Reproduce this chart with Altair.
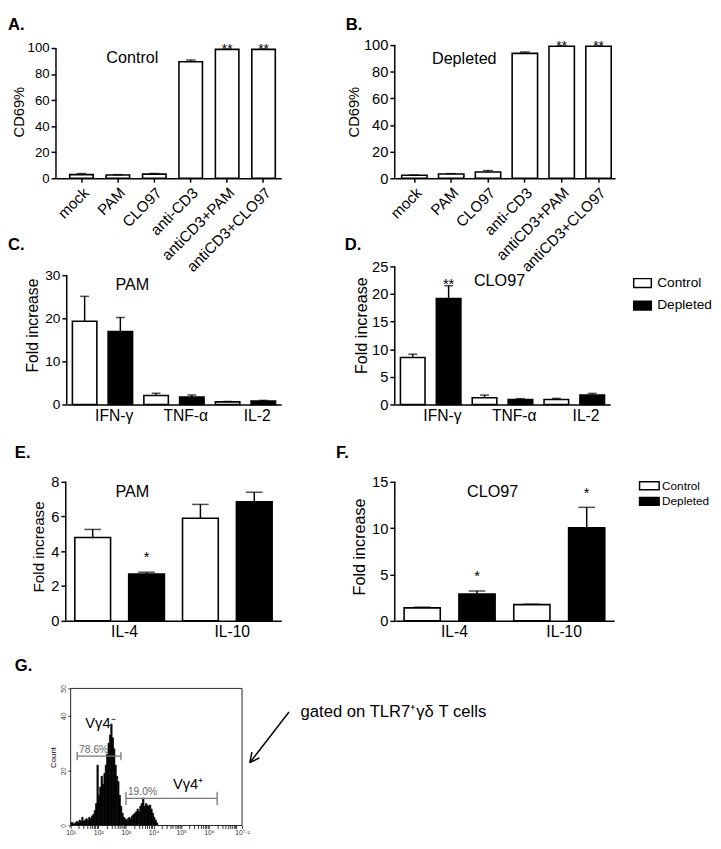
import math
import altair as alt
import pandas as pd

FONT = "Liberation Sans"

# ---------------- data ----------------
cd69_cats = ['mock', 'PAM', 'CLO97', 'anti-CD3', 'antiCD3+PAM', 'antiCD3+CLO97']
ctrl_cd69 = [2.8, 2.5, 3.2, 89.5, 99.0, 99.0]
ctrl_cd69_err = [0.8, 0.3, 0.5, 1.3, 0.2, 0.2]
ctrl_cd69_sig = ['', '', '', '', '**', '**']
depl_cd69 = [2.2, 3.2, 4.7, 93.8, 99.2, 99.2]
depl_cd69_err = [0.3, 0.3, 1.1, 1.0, 0.2, 0.2]
depl_cd69_sig = ['', '', '', '', '**', '**']

groups = ['Control', 'Depleted']
th1 = ['IFN-γ', 'TNF-α', 'IL-2']
pam_th1_ctrl = [19.3, 2.1, 0.6]
pam_th1_ctrl_err = [5.8, 0.5, 0.1]
pam_th1_depl = [16.9, 1.7, 0.8]
pam_th1_depl_err = [3.3, 0.5, 0.15]
pam_th1_sig = ['', '', '']
clo_th1_ctrl = [8.5, 1.2, 0.9]
clo_th1_ctrl_err = [0.6, 0.5, 0.2]
clo_th1_depl = [19.2, 0.9, 1.7]
clo_th1_depl_err = [2.3, 0.15, 0.3]
clo_th1_sig = ['**', '', '']

th2 = ['IL-4', 'IL-10']
pam_th2_ctrl = [4.8, 5.9]
pam_th2_ctrl_err = [0.46, 0.8]
pam_th2_depl = [2.7, 6.85]
pam_th2_depl_err = [0.1, 0.55]
pam_th2_sig = ['*', '']
clo_th2_ctrl = [1.4, 1.75]
clo_th2_ctrl_err = [0.08, 0.05]
clo_th2_depl = [2.9, 10.05]
clo_th2_depl_err = [0.32, 2.2]
clo_th2_sig = ['*', '*']

# flow histogram (log10 fluorescence bin start, counts)
hist_log_lo = [1.00, 1.05, 1.10, 1.15, 1.20, 1.25, 1.30, 1.35, 1.40, 1.45,
               1.50, 1.55, 1.60, 1.65, 1.70, 1.75, 1.80, 1.85, 1.90, 1.95,
               2.00, 2.05, 2.10, 2.15, 2.20, 2.25, 2.30, 2.35, 2.40, 2.45,
               2.50, 2.55, 2.60, 2.65, 2.70, 2.75, 2.80, 2.85, 2.90, 2.95,
               3.00, 3.05, 3.10, 3.15, 3.20, 3.25, 3.30, 3.35, 3.40, 3.45,
               3.50, 3.55, 3.60, 3.65, 3.70, 3.75, 3.80, 3.85, 3.90, 3.95,
               4.00, 4.05, 4.10]
hist_count = [1, 1, 0.5, 1, 1.5, 1, 2, 1.5, 3, 1.5,
              2, 2.5, 2, 3, 2.5, 3.5, 4, 5.5, 8, 22,
              11, 14, 18, 15, 19, 22, 26, 30, 33, 37,
              32, 28, 22, 18, 16, 11, 7, 4.5, 3, 2.5,
              2, 2.5, 3, 2.5, 3.5, 4, 4.5, 5, 6, 5,
              7, 8, 10, 7, 8, 7.5, 7, 7.5, 6, 4.5,
              3, 2, 1]
hist_bin = 0.05
gate_names = ['78.6%', '19.0%']
gate_lo = [1.235, 3.0]
gate_hi = [2.82, 6.3]
gate_level = [25.3, 9.9]
gate_half = [1.5, 2.4]


def txt(text, x, y, size, weight='normal', align='left', baseline='top', color='black'):
    return alt.Chart(pd.DataFrame({'t': [text]})).mark_text(
        font=FONT, fontSize=size, fontWeight=weight, align=align,
        baseline=baseline, color=color
    ).encode(x=alt.value(x), y=alt.value(y), text='t:N')


def cd69_panel(vals, errs, sigs, note, note_x, note_y, letter, lx, ly,
               width, height, ymax, pi, po, al, cap, tick_fs, title_fs, cat_fs, title_pad):
    df = pd.DataFrame({'cat': cd69_cats, 'val': vals, 'err': errs, 'sig': sigs})
    df['top'] = df['val'] + df['err']
    X = alt.X('cat:N', sort=cd69_cats,
              scale=alt.Scale(paddingInner=pi, paddingOuter=po, align=al),
              axis=alt.Axis(title=None, labelAngle=-45, labelFontSize=cat_fs, labelPadding=3,
                            tickSize=4, tickWidth=1.5, domainWidth=1.5))
    ysc = alt.Scale(domain=[0, ymax], nice=False, zero=False)
    yax = alt.Axis(title='CD69%', values=[0, 20, 40, 60, 80, 100], domain=False, tickSize=5,
                   tickWidth=1.5, labelFontSize=tick_fs, labelPadding=2, titleFontSize=title_fs,
                   titlePadding=title_pad, format='d')

    def Y(f):
        return alt.Y(f, scale=ysc, axis=yax)

    base = alt.Chart(df)
    bars = base.mark_bar(fill='white', stroke='black', strokeWidth=1.6).encode(x=X, y=Y('val:Q'))
    stem = base.mark_rule(color='black', strokeWidth=1.5).encode(x=X, y=Y('val:Q'), y2='top:Q')
    caps = base.mark_tick(size=cap, thickness=1.5, color='black').encode(x=X, y=Y('top:Q'))
    stars = base.mark_text(font=FONT, fontSize=14, baseline='alphabetic', dy=4,
                           color='black').encode(x=X, y=Y('top:Q'), text='sig:N')
    yl = alt.Chart(pd.DataFrame({'val': [0.0], 'top': [100.0]})).mark_rule(
        color='black', strokeWidth=1.5).encode(x=alt.value(0), y=Y('val:Q'), y2='top:Q')
    return alt.layer(
        bars, stem, caps, stars, yl,
        txt(note, note_x, note_y, 16.5, align='center', baseline='middle'),
        txt(letter, lx, ly, 17, weight='bold'),
    ).properties(width=width, height=height)


def group_panel(cats, ctrl, ctrl_err, depl, depl_err, sig, width, height, xrange, ymax, yticks,
                yoffset, note, note_x, note_y, letter, lx, ly, pi, po, cap, label_offset,
                star_dy, legend, lab_fs, tick_fs, title_fs, title_pad):
    rows = []
    for i, c in enumerate(cats):
        rows.append({'cat': c, 'grp': groups[0], 'val': ctrl[i], 'err': ctrl_err[i], 'sig': ''})
        rows.append({'cat': c, 'grp': groups[1], 'val': depl[i], 'err': depl_err[i], 'sig': sig[i]})
    df = pd.DataFrame(rows)
    df['top'] = df['val'] + df['err']
    X = alt.X('cat:N', sort=cats,
              scale=alt.Scale(range=xrange, paddingInner=0, paddingOuter=0),
              axis=alt.Axis(title=None, labelAngle=0, ticks=False, labelOffset=label_offset,
                            labelFontSize=lab_fs, labelPadding=3, domainWidth=1.5))
    XO = alt.XOffset('grp:N', sort=groups, scale=alt.Scale(paddingInner=pi, paddingOuter=po))
    ysc = alt.Scale(domain=[0, ymax], nice=False, zero=False)
    yax = alt.Axis(title='Fold increase', values=yticks, domain=False, tickSize=5, tickWidth=1.5,
                   labelFontSize=tick_fs, labelPadding=2, titleFontSize=title_fs,
                   titlePadding=title_pad, offset=yoffset, format='d')

    def Y(f):
        return alt.Y(f, scale=ysc, axis=yax)

    F = alt.Fill('grp:N', sort=groups,
                 scale=alt.Scale(domain=groups, range=['white', 'black']), legend=legend)
    base = alt.Chart(df)
    bars = base.mark_bar(stroke='black', strokeWidth=1.6).encode(
        x=X, xOffset=XO, y=Y('val:Q'), fill=F)
    stem = base.mark_rule(color='black', strokeWidth=1.5).encode(
        x=X, xOffset=XO, y=Y('val:Q'), y2='top:Q')
    caps = base.mark_tick(size=cap, thickness=1.5, color='black').encode(
        x=X, xOffset=XO, y=Y('top:Q'))
    stars = base.mark_text(font=FONT, fontSize=15, baseline='alphabetic', dy=star_dy,
                           color='black').encode(x=X, xOffset=XO, y=Y('top:Q'), text='sig:N')
    yl = alt.Chart(pd.DataFrame({'val': [0.0], 'top': [float(yticks[-1])]})).mark_rule(
        color='black', strokeWidth=1.5).encode(x=alt.value(xrange[0]), y=Y('val:Q'), y2='top:Q')
    return alt.layer(
        bars, stem, caps, stars, yl,
        txt(note, note_x, note_y, 16.5, align='center', baseline='middle'),
        txt(letter, lx, ly, 17, weight='bold'),
    ).properties(width=width, height=height)


def legend_def(x, y, path, size, fs, row_pad, lab_off):
    return alt.Legend(orient='none', legendX=x, legendY=y, title=None, symbolType=path,
                      symbolSize=size, symbolStrokeColor='black', symbolStrokeWidth=1.5,
                      labelFontSize=fs, labelOffset=lab_off, rowPadding=row_pad, padding=0,
                      labelFont=FONT, labelColor='black')


A = cd69_panel(ctrl_cd69, ctrl_cd69_err, ctrl_cd69_sig, 'Control', 78, 13, 'A.', -49, -28,
               230, 136, 102.26, 0.355, 0.269, 0.7, 10, 13.5, 15, 15.5, 1)
B = cd69_panel(depl_cd69, depl_cd69_err, depl_cd69_sig, 'Depleted', 71, 14, 'B.', -50, -28,
               225, 136, 100.0, 0.31, 0.146, 0.64, 10, 15, 15, 15.5, 2)
C = group_panel(th1, pam_th1_ctrl, pam_th1_ctrl_err, pam_th1_depl, pam_th1_depl_err, pam_th1_sig,
                235, 162, [11, 230], 36.82, [0, 10, 20, 30], -11, 'PAM', 78, 40, 'C.', -49, -9,
                0.315, 0.158, 9, 12, 3, None, 16, 14, 16, 4)
D = group_panel(th1, clo_th1_ctrl, clo_th1_ctrl_err, clo_th1_depl, clo_th1_depl_err, clo_th1_sig,
                220, 162, [0, 220], 28.72, [0, 5, 10, 15, 20, 25], 0, 'CLO97', 107, 36, 'D.', -51, -9,
                0.315, 0.158, 9, 12, 3,
                legend_def(243, 28, 'M-1,-0.5L1,-0.5L1,0.5L-1,0.5Z', 324, 14, 5, 5),
                16, 15, 16.5, 2)
E = group_panel(th2, pam_th2_ctrl, pam_th2_ctrl_err, pam_th2_depl, pam_th2_depl_err, pam_th2_sig,
                240, 152, [10, 230], 8.563, [0, 2, 4, 6, 8], -10, 'PAM', 78, 20, 'E.', -42, -27,
                0.336, 0.168, 17, 5, -10, None, 16, 15, 15.5, 4)
F = group_panel(th2, clo_th2_ctrl, clo_th2_ctrl_err, clo_th2_depl, clo_th2_depl_err, clo_th2_sig,
                224, 152, [0, 224], 16.06, [0, 5, 10, 15], 0, 'CLO97', 100, 20, 'F.', -60, -27,
                0.34, 0.17, 17, 5, -10,
                legend_def(251, 5, 'M-1.25,-0.5L1.25,-0.5L1.25,0.5L-1.25,0.5Z', 256, 12, 0, 4),
                16, 15, 16.5, 4)

# ---------------- panel G : flow histogram ----------------
hist = pd.DataFrame({'lo': hist_log_lo, 'count': hist_count})
hist['hi'] = hist['lo'] + hist_bin
hist['base'] = 0.0

tick_vals = []
for n in range(1, 7):
    for k in range(1, 10):
        tick_vals.append(round(n + math.log10(k), 4))
tick_vals += [7.0, 7.2]

sup = "['','¹','²','³','⁴','⁵','⁶']"
gxs = alt.Scale(domain=[1, 7.2], range=[15, 190], nice=False, zero=False)
gxa = alt.Axis(title=None, values=tick_vals, domain=False, tickSize=3, tickWidth=1, tickColor='#333',
               labelFontSize=7, labelColor='#333', labelPadding=0, labelOverlap=False,
               labelFlush=False,
               labelExpr="datum.value > 7.1 ? '10⁷·²' : (abs(datum.value - round(datum.value)) < 0.001"
                         " && datum.value < 6.5 ? '10' + " + sup + "[round(datum.value)] : '')")
gys = alt.Scale(domain=[0, 50], nice=False, zero=False)
gya = alt.Axis(title='Count', values=[0, 20, 40, 50], domain=False, tickSize=3, tickWidth=1,
               tickColor='#333', labelFontSize=7, labelColor='#333', labelAngle=-90,
               labelAlign='center', labelBaseline='bottom', labelPadding=1, titleFontSize=8,
               titlePadding=2, offset=-15)


def GX(f):
    return alt.X(f, scale=gxs, axis=gxa)


def GY(f):
    return alt.Y(f, scale=gys, axis=gya)


g_bars = alt.Chart(hist).mark_rect(color='black', stroke='black', strokeWidth=0.7).encode(
    x=GX('lo:Q'), x2='hi:Q', y=GY('count:Q'), y2='base:Q')
frame = alt.Chart(pd.DataFrame({'lo': [1.0], 'hi': [7.2], 'count': [0.0], 'top': [50.0]})).mark_rect(
    fillOpacity=0, stroke='#222', strokeWidth=1).encode(
    x=GX('lo:Q'), x2='hi:Q', y=GY('count:Q'), y2='top:Q')

gates = pd.DataFrame({'name': gate_names, 'lo': gate_lo, 'hi': gate_hi, 'count': gate_level,
                      'half': gate_half})
gates['c0'] = gates['count'] - gates['half']
gates['c1'] = gates['count'] + gates['half']
gate_line = alt.Chart(gates).mark_rule(color='#777', strokeWidth=1.3).encode(
    x=GX('lo:Q'), x2='hi:Q', y=GY('count:Q'))
gate_l = alt.Chart(gates).mark_rule(color='#777', strokeWidth=1.3).encode(
    x=GX('lo:Q'), y=GY('c0:Q'), y2='c1:Q')
gate_r = alt.Chart(gates).mark_rule(color='#777', strokeWidth=1.3).encode(
    x=GX('hi:Q'), y=GY('c0:Q'), y2='c1:Q')
gate_txt = alt.Chart(gates).mark_text(font=FONT, fontSize=10.5, color='#666', align='left',
                                      baseline='bottom', dx=2, dy=-1).encode(
    x=GX('lo:Q'), y=GY('count:Q'), text='name:N')

pop = pd.DataFrame({'lo': [1.53, 4.7], 'count': [35.6, 13.2], 't': ['Vγ4⁻', 'Vγ4⁺']})
pop_txt = alt.Chart(pop).mark_text(font=FONT, fontSize=15, align='left', baseline='alphabetic',
                                   color='black').encode(x=GX('lo:Q'), y=GY('count:Q'), text='t:N')

# arrow + note (positions in the panel's own log / count units)
arrow_from = (8.90, 41.4)
arrow_to = (7.48, 22.9)
px_x = 175 / 6.2
px_y = 140 / 50
dxp = (arrow_from[0] - arrow_to[0]) * px_x
dyp = (arrow_from[1] - arrow_to[1]) * px_y
ln = math.hypot(dxp, dyp)
ux, uy = dxp / ln, dyp / ln
segs = [{'lo': arrow_from[0], 'hi': arrow_to[0], 'count': arrow_from[1], 'c1': arrow_to[1]}]
for sgn in (1, -1):
    a = math.radians(26) * sgn
    bx = ux * math.cos(a) - uy * math.sin(a)
    by = ux * math.sin(a) + uy * math.cos(a)
    segs.append({'lo': arrow_to[0], 'hi': arrow_to[0] + bx * 11 / px_x,
                 'count': arrow_to[1], 'c1': arrow_to[1] + by * 11 / px_y})
arrow = alt.Chart(pd.DataFrame(segs)).mark_rule(color='black', strokeWidth=1.5).encode(
    x=GX('lo:Q'), x2='hi:Q', y=GY('count:Q'), y2='c1:Q')
note = alt.Chart(pd.DataFrame({'lo': [9.32], 'count': [41.4], 't': ['gated on TLR7⁺γδ T cells']})).mark_text(
    font=FONT, fontSize=17, align='left', baseline='middle', color='black').encode(
    x=GX('lo:Q'), y=GY('count:Q'), text='t:N')

G = alt.layer(g_bars, frame, gate_line, gate_l, gate_r, gate_txt, pop_txt, arrow, note,
              txt('G.', -42, -31, 17, weight='bold')).properties(width=190, height=140)

chart = alt.concat(
    A, B, C, D, E, F, G, columns=2, spacing={'row': 69, 'column': 106},
    bounds='flush', align='none'
).resolve_scale(fill='independent', xOffset='independent').properties(
    padding={'left': 0, 'top': 0, 'right': 0, 'bottom': 0}
).configure_view(stroke=None).configure_axis(
    labelFont=FONT, titleFont=FONT, labelColor='black', titleColor='black',
    titleFontWeight='normal', domainColor='black', tickColor='black', grid=False
)

chart.save("out.html", embed_options={"renderer": "svg", "actions": False})
